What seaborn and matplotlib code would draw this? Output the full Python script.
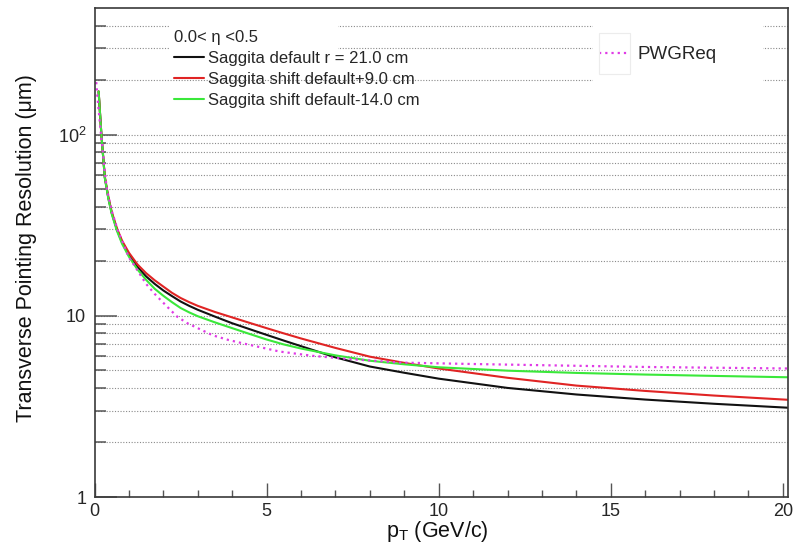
import matplotlib
matplotlib.use("Agg")
import matplotlib.pyplot as plt
import seaborn as sns
import pandas as pd
from matplotlib.patches import Rectangle
from matplotlib.ticker import FixedLocator, FixedFormatter, MultipleLocator

# ---------------- data ----------------
pt = [0.12, 0.2, 0.3, 0.4, 0.5, 0.65, 0.8, 1.0, 1.25, 1.5, 1.75, 2.0, 2.25, 2.5, 2.75,
      3.0, 3.5, 4.0, 4.5, 5.0, 5.5, 6.0, 7.0, 8.0, 9.0, 10.0, 12.0, 14.0, 16.0, 18.0, 20.15]
res_default = [173, 100, 58, 45, 37, 30, 25.5, 21.8, 18.6, 16.5, 15.0, 13.8, 12.85, 12.0, 11.35,
               10.8, 9.9, 9.1, 8.45, 7.85, 7.3, 6.8, 5.9, 5.25, 4.85, 4.5, 4.0, 3.68, 3.45, 3.27, 3.11]
res_plus9 = [173, 100, 58.5, 45.5, 37.5, 30.5, 26, 22.3, 19.2, 17.2, 15.7, 14.5, 13.4, 12.55, 11.9,
             11.35, 10.5, 9.8, 9.15, 8.55, 8.0, 7.5, 6.65, 5.95, 5.5, 5.12, 4.55, 4.12, 3.85, 3.63, 3.44]
res_minus14 = [173, 100, 57.5, 44.5, 36.5, 29.5, 25, 21.2, 18.0, 15.8, 14.1, 12.9, 11.9, 11.05, 10.45,
               9.95, 9.2, 8.55, 7.95, 7.4, 6.95, 6.6, 6.05, 5.65, 5.4, 5.2, 4.98, 4.84, 4.74, 4.66, 4.58]

pt_req = [0.05, 0.1, 0.19, 0.3, 0.36, 0.5, 0.68, 1.0, 1.14, 1.5, 1.75, 2.0, 2.2, 2.4, 2.7, 3.0,
          3.44, 3.9, 4.41, 5.38, 6.35, 7.32, 8.87, 11.0, 13.23, 16.0, 20.15]
res_req = [195, 150, 100, 62, 50, 38, 29.5, 21.0, 19.2, 15.0, 13.2, 11.8, 10.8, 9.9, 9.1, 8.55,
           7.8, 7.35, 6.98, 6.35, 6.01, 5.79, 5.52, 5.42, 5.33, 5.22, 5.12]

labels = ["Saggita default r = 21.0 cm",
          "Saggita shift default+9.0 cm",
          "Saggita shift default-14.0 cm"]
req_label = "PWGReq"
header = "0.0< \u03b7 <0.5"
xticks = [0, 5, 10, 15, 20]
yticks = [1, 10, 100]
ytick_labels = ["1", "10", r"$\mathregular{10^{2}}$"]
yminor = [2, 3, 4, 5, 6, 7, 8, 9, 20, 30, 40, 50, 60, 70, 80, 90, 200, 300, 400]

# ---------------- style ----------------
sns.set_theme(style="white")
plt.rcParams["font.family"] = ["Liberation Sans", "DejaVu Sans"]
plt.rcParams["mathtext.fontset"] = "custom"
plt.rcParams["mathtext.rm"] = "Liberation Sans"
plt.rcParams["mathtext.it"] = "Liberation Sans:italic"
plt.rcParams["axes.axisbelow"] = True

W, H = 807, 547
fig = plt.figure(figsize=(W / 100, H / 100), dpi=100)
x0, x1, y0, y1 = 94.5, 788, 8, 497
ax = fig.add_axes([x0 / W, 1 - y1 / H, (x1 - x0) / W, (y1 - y0) / H])

def fig_xy(px, py):
    return px / W, 1 - py / H

colors = ["#111111", "#e02424", "#3ae83a"]
series = [res_default, res_plus9, res_minus14]
handles = []
for vals, lab, col in zip(series, labels, colors):
    df = pd.DataFrame({"pt": pt, "res": vals})
    sns.lineplot(data=df, x="pt", y="res", ax=ax, color=col, lw=1.5,
                 sort=False, estimator=None, label=lab, legend=False)
    handles.append(ax.lines[-1])

df_req = pd.DataFrame({"pt": pt_req, "res": res_req})
sns.lineplot(data=df_req, x="pt", y="res", ax=ax, color="#e03ae6", lw=1.6,
             linestyle=(0, (1, 1.8)), sort=False, estimator=None, legend=False)
h_req = ax.lines[-1]

ax.set_yscale("log")
ax.set_xlim(0, 20.15)
ax.set_ylim(1, 500)

ax.xaxis.set_major_locator(FixedLocator(xticks))
ax.xaxis.set_minor_locator(MultipleLocator(1))
ax.yaxis.set_major_locator(FixedLocator(yticks))
ax.yaxis.set_major_formatter(FixedFormatter(ytick_labels))
ax.yaxis.set_minor_locator(FixedLocator(yminor))
ax.yaxis.set_minor_formatter(FixedFormatter([""] * len(yminor)))

ax.yaxis.grid(True, which="both", linestyle=(0, (1, 1.5)), color="#8a8a8a", lw=0.8)
ax.xaxis.grid(False)

for s in ax.spines.values():
    s.set_color("#3a3a3a")
    s.set_linewidth(1.2)

ax.tick_params(axis="y", which="major", direction="in", length=16, width=1.1,
               color="#555555", labelsize=13, pad=6, right=False, left=True)
ax.tick_params(axis="y", which="minor", direction="in", length=8, width=1.1,
               color="#555555", right=False, left=True)
ax.tick_params(axis="x", which="major", direction="in", length=10, width=1.0,
               color="#555555", labelsize=13, pad=4, top=False, bottom=True)
ax.tick_params(axis="x", which="minor", direction="in", length=5, width=1.0,
               color="#555555", top=False, bottom=True)

ax.set_xlabel(r"$\mathregular{p_{T}}$ (GeV/c)", fontsize=15.5, color="#111111")
ax.xaxis.label.set_verticalalignment("center")
ax.xaxis.set_label_coords((437 - x0) / (x1 - x0), (y1 - 532) / (y1 - y0))
ax.set_ylabel("Transverse Pointing Resolution (\u03bcm)", fontsize=15.5, color="#111111")
ax.yaxis.label.set_verticalalignment("center")
ax.yaxis.set_label_coords((27 - x0) / (x1 - x0), (y1 - 248.5) / (y1 - y0))

# white areas hiding grid behind legend headers (as in reference)
for (ax_px, ay_px, bx_px, by_px) in [(170, 14, 338, 62), (593, 14, 763, 95)]:
    fx, fy = fig_xy(ax_px, by_px)
    ax.add_patch(Rectangle((fx, fy), (bx_px - ax_px) / W, (by_px - ay_px) / H,
                           transform=fig.transFigure, facecolor="white",
                           edgecolor="none", zorder=1))

leg1 = ax.legend(handles, labels, title=header, loc="upper left",
                 bbox_to_anchor=fig_xy(174, 30), bbox_transform=fig.transFigure,
                 frameon=False, fontsize=12, title_fontsize=12, alignment="left",
                 borderpad=0, borderaxespad=0, handlelength=1.8, handletextpad=0.25,
                 labelspacing=0.36)
ax.add_artist(leg1)

leg2 = ax.legend([h_req], [req_label], loc="upper left",
                 bbox_to_anchor=fig_xy(599, 46), bbox_transform=fig.transFigure,
                 frameon=False, fontsize=13.5, borderpad=0, borderaxespad=0,
                 handlelength=1.65, handletextpad=0.4)

bx, by = fig_xy(599, 74)
fig.patches.append(Rectangle((bx, by), 31 / W, 41 / H, transform=fig.transFigure,
                             facecolor="none", edgecolor="#ececec", lw=0.8))

fig.savefig("out.png", dpi=100)
